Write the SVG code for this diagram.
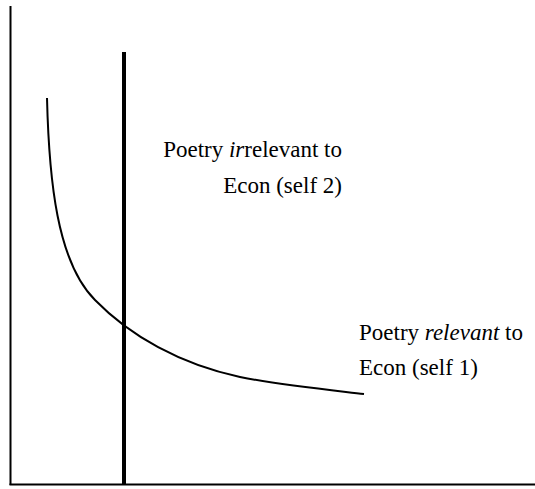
<svg xmlns="http://www.w3.org/2000/svg" width="535" height="489" viewBox="0 0 535 489">
<style>
.ax{stroke:#000;stroke-width:2;fill:none}
.thick{stroke:#000;stroke-width:4;fill:none}
.crv{stroke:#000;stroke-width:2;fill:none}
.lbl{font-size:23px;fill:#000}
</style>
<rect width="535" height="489" fill="#fff"/>
<g id="connectors">
<path id="y-axis" class="ax" d="M10.5,6 V485"/>
<path id="x-axis" class="ax" d="M9.5,484.5 H535"/>
<path id="vertical-line" class="thick" d="M124,52 V485"/>
<path id="curve" class="crv" d="M47,98 C49,180 57,262 95,300 C130,336 180,364 240,377 C280,385 330,390 364,394"/>
</g>
<g id="label-self2" font-family="'Liberation Serif', 'DejaVu Serif', serif">
<text class="lbl" font-family="'Liberation Serif', 'DejaVu Serif', serif" x="342" y="157" text-anchor="end">Poetry <tspan font-style="italic">ir</tspan>relevant to</text>
<text class="lbl" font-family="'Liberation Serif', 'DejaVu Serif', serif" x="342" y="193" text-anchor="end">Econ (self 2)</text>
</g>
<g id="label-self1" font-family="'Liberation Serif', 'DejaVu Serif', serif">
<text class="lbl" font-family="'Liberation Serif', 'DejaVu Serif', serif" x="359" y="340">Poetry <tspan font-style="italic">relevant</tspan> to</text>
<text class="lbl" font-family="'Liberation Serif', 'DejaVu Serif', serif" x="359" y="375">Econ (self 1)</text>
</g>
</svg>
